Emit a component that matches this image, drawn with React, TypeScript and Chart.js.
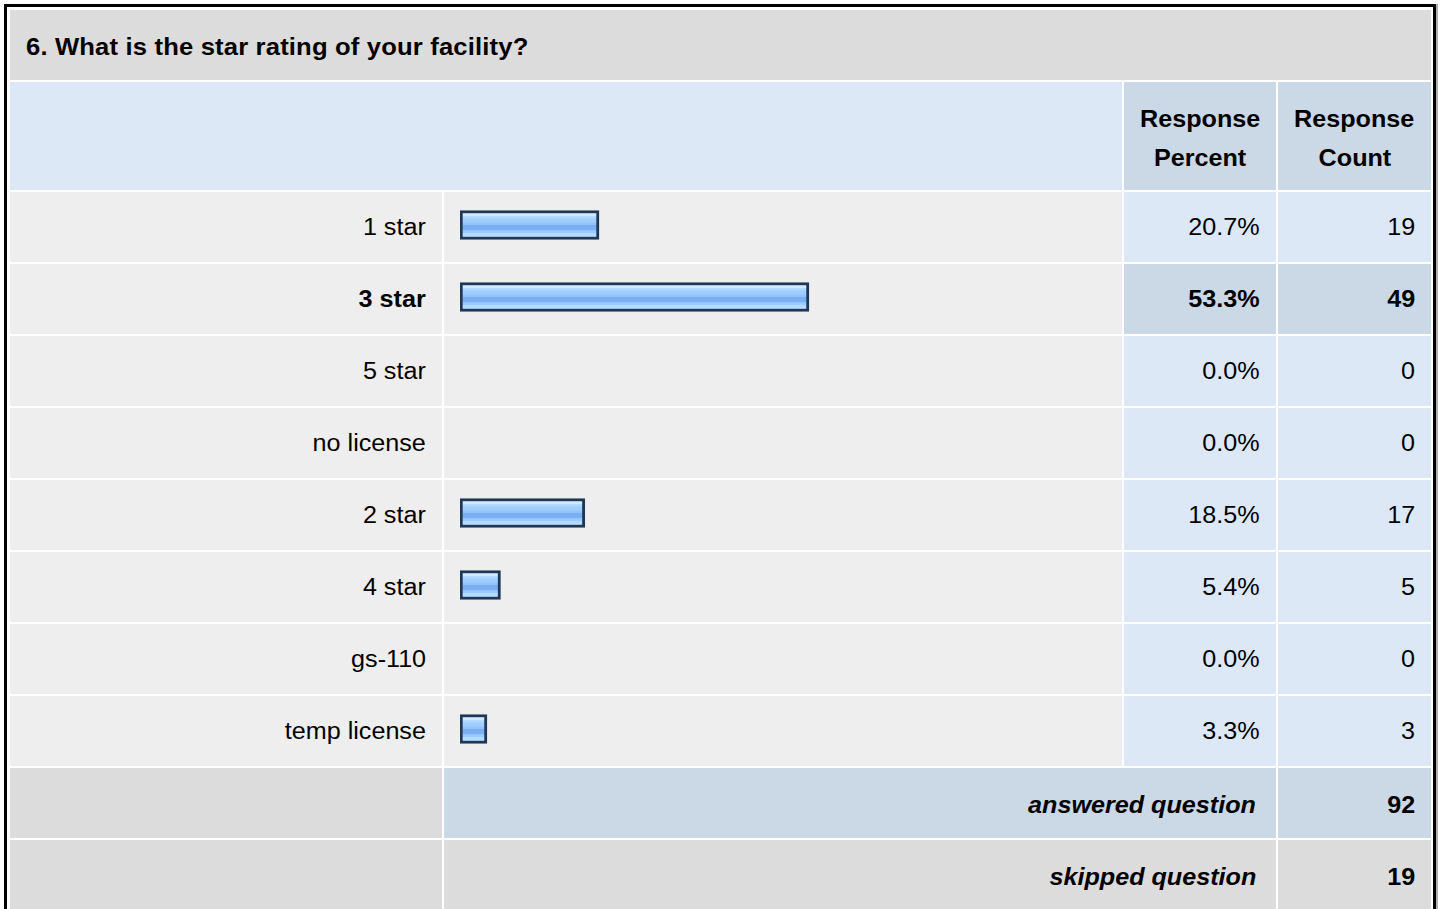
import React, { useEffect, useRef } from "react";
import { Chart, registerables } from "chart.js";

Chart.register(...registerables);

const TITLE = "6. What is the star rating of your facility?";
const HEADER_PERCENT = ["Response", "Percent"];
const HEADER_COUNT = ["Response", "Count"];
const CATEGORIES = ["1 star", "3 star", "5 star", "no license", "2 star", "4 star", "gs-110", "temp license"];
const PERCENTS = [20.7, 53.3, 0.0, 0.0, 18.5, 5.4, 0.0, 3.3];
const COUNTS = [19, 49, 0, 0, 17, 5, 0, 3];
const ANSWERED_LABEL = "answered question";
const SKIPPED_LABEL = "skipped question";
const ANSWERED = 92;
const SKIPPED = 19;

const FONT = '"Liberation Sans", Arial, Helvetica, sans-serif';
const FS = 23.5;
const SX = 1.07;

const C_TITLE = "#dcdcdc";
const C_GREY = "#eeeeee";
const C_LBLUE = "#dce8f5";
const C_DBLUE = "#cbd8e6";

const COLS = { label: [10, 432], bar: [444, 678], pct: [1124, 152], cnt: [1278, 153] };
const ROW0 = 192;
const PITCH = 72;
const RH = 70;

function T({ children, bold, italic, align, size, sx, ls }: any) {
  const origin = align === "right" ? "right center" : align === "center" ? "center center" : "left center";
  return (
    <span
      style={{
        display: "inline-block",
        fontFamily: FONT,
        fontSize: size || FS,
        fontWeight: bold ? 700 : 400,
        fontStyle: italic ? "italic" : "normal",
        letterSpacing: ls || 0,
        transform: `scaleX(${sx || SX})`,
        transformOrigin: origin,
        whiteSpace: "nowrap",
        color: "#000",
      }}
    >
      {children}
    </span>
  );
}

function Cell({ x, y, w, h, bg, align, pad, padTop, children }: any) {
  return (
    <div
      style={{
        position: "absolute",
        left: x,
        top: y,
        width: w,
        height: h,
        background: bg,
        display: "flex",
        alignItems: "center",
        justifyContent: align === "right" ? "flex-end" : align === "center" ? "center" : "flex-start",
        paddingLeft: align === "left" ? pad : 0,
        paddingRight: align === "right" ? pad : 0,
        paddingTop: padTop || 0,
        boxSizing: "border-box",
      }}
    >
      {children}
    </div>
  );
}

function BarChart() {
  const ref = useRef<HTMLCanvasElement>(null);
  useEffect(() => {
    const canvas = ref.current!;
    const BAR_BASE = -0.885;
    const PX_PER_UNIT = 6.44;
    const W = 677;
    const PADL = 16;
    const THICK = 29;
    const chart = new Chart(canvas, {
      type: "bar",
      data: {
        labels: CATEGORIES,
        datasets: [
          {
            data: PERCENTS.map((p) => (p > 0 ? p : null)),
            base: BAR_BASE,
            barThickness: THICK,
            borderWidth: 3,
            borderColor: "#1f3757",
            borderSkipped: false,
            backgroundColor: (ctx: any) => {
              const ch = ctx.chart;
              const ys = ch.scales && ch.scales.y;
              if (!ys || !ch.chartArea) return "#99c9ff";
              const cy = ys.getPixelForValue(ctx.dataIndex);
              const top = cy - THICK / 2 + 3;
              const bot = cy + THICK / 2 - 3;
              const g = ch.ctx.createLinearGradient(0, top, 0, bot);
              const stops: [number, string][] = [
                [0, "#d2e9ff"], [0.09, "#d2e9ff"],
                [0.1, "#b2d9ff"], [0.2, "#b2d9ff"],
                [0.21, "#a3d0ff"], [0.4, "#9ccbff"],
                [0.41, "#92c3fb"], [0.5, "#8fc0fa"],
                [0.51, "#78aef0"], [0.72, "#7cb2f2"],
                [0.73, "#93c6ff"], [0.86, "#9fcdff"],
                [0.87, "#b6dbff"], [1, "#b6dbff"],
              ];
              stops.forEach(([o, c]) => g.addColorStop(o, c));
              return g;
            },
          },
        ],
      },
      options: {
        indexAxis: "y",
        responsive: false,
        animation: false,
        events: [],
        layout: { padding: { left: PADL, right: 0, top: 0, bottom: 0 } },
        plugins: { legend: { display: false }, tooltip: { enabled: false } },
        scales: {
          x: { type: "linear", display: false, min: BAR_BASE, max: BAR_BASE + (W - PADL) / PX_PER_UNIT },
          y: { type: "category", display: false, offset: true },
        },
      },
    });
    return () => chart.destroy();
  }, []);
  return (
    <canvas
      ref={ref}
      width={677}
      height={576}
      style={{ position: "absolute", left: 444, top: 189, width: 677, height: 576 }}
    />
  );
}

export default function App() {
  const maxIdx = COUNTS.indexOf(Math.max(...COUNTS));
  const rows = CATEGORIES.map((cat, i) => {
    const y = ROW0 + i * PITCH;
    const hl = i === maxIdx;
    const vbg = hl ? C_DBLUE : C_LBLUE;
    return (
      <React.Fragment key={cat}>
        <Cell x={COLS.label[0]} y={y} w={COLS.label[1]} h={RH} bg={C_GREY} align="right" pad={16} padTop={-1}>
          <T bold={hl} align="right">{cat}</T>
        </Cell>
        <Cell x={COLS.bar[0]} y={y} w={COLS.bar[1]} h={RH} bg={C_GREY} />
        <Cell x={COLS.pct[0]} y={y} w={COLS.pct[1]} h={RH} bg={vbg} align="right" pad={16} padTop={-1}>
          <T bold={hl} align="right">{PERCENTS[i].toFixed(1) + "%"}</T>
        </Cell>
        <Cell x={COLS.cnt[0]} y={y} w={COLS.cnt[1]} h={RH} bg={vbg} align="right" pad={16} padTop={-1}>
          <T bold={hl} align="right">{COUNTS[i]}</T>
        </Cell>
      </React.Fragment>
    );
  });
  const ay = ROW0 + CATEGORIES.length * PITCH;
  const sy = ay + PITCH;
  return (
    <div style={{ position: "fixed", left: 0, top: 0, width: 1440, height: 909, overflow: "hidden", background: "#fff" }}>
      <div
        style={{
          position: "absolute",
          left: 4,
          top: 4,
          width: 1432,
          height: 960,
          border: "3px solid #000",
          boxSizing: "border-box",
          boxShadow: "2px 0 0 #b0b0b0",
        }}
      />
      <Cell x={10} y={10} w={1421} h={70} bg={C_TITLE} align="left" pad={16} padTop={4}>
        <T bold align="left" sx={1.09} ls={0.15}>{TITLE}</T>
      </Cell>
      <Cell x={10} y={82} w={1112} h={108} bg={C_LBLUE} />
      <Cell x={COLS.pct[0]} y={82} w={COLS.pct[1]} h={108} bg={C_DBLUE} align="center" pad={0}>
        <div style={{ textAlign: "center", lineHeight: "37px", paddingTop: 8 }}>
          {HEADER_PERCENT.map((t) => (<div key={t}><T bold align="center">{t}</T></div>))}
        </div>
      </Cell>
      <Cell x={COLS.cnt[0]} y={82} w={COLS.cnt[1]} h={108} bg={C_DBLUE} align="center" pad={0}>
        <div style={{ textAlign: "center", lineHeight: "37px", paddingTop: 8 }}>
          {HEADER_COUNT.map((t) => (<div key={t}><T bold align="center">{t}</T></div>))}
        </div>
      </Cell>
      {rows}
      <BarChart />
      <Cell x={COLS.label[0]} y={ay} w={COLS.label[1]} h={RH} bg={C_TITLE} />
      <Cell x={COLS.bar[0]} y={ay} w={COLS.pct[0] + COLS.pct[1] - COLS.bar[0]} h={RH} bg={C_DBLUE} align="right" pad={20} padTop={4}>
        <T bold italic align="right">{ANSWERED_LABEL}</T>
      </Cell>
      <Cell x={COLS.cnt[0]} y={ay} w={COLS.cnt[1]} h={RH} bg={C_DBLUE} align="right" pad={16} padTop={4}>
        <T bold align="right">{ANSWERED}</T>
      </Cell>
      <Cell x={COLS.label[0]} y={sy} w={COLS.label[1]} h={RH} bg={C_TITLE} />
      <Cell x={COLS.bar[0]} y={sy} w={COLS.pct[0] + COLS.pct[1] - COLS.bar[0]} h={RH} bg={C_TITLE} align="right" pad={20} padTop={4}>
        <T bold italic align="right">{SKIPPED_LABEL}</T>
      </Cell>
      <Cell x={COLS.cnt[0]} y={sy} w={COLS.cnt[1]} h={RH} bg={C_TITLE} align="right" pad={16} padTop={4}>
        <T bold align="right">{SKIPPED}</T>
      </Cell>
    </div>
  );
}
